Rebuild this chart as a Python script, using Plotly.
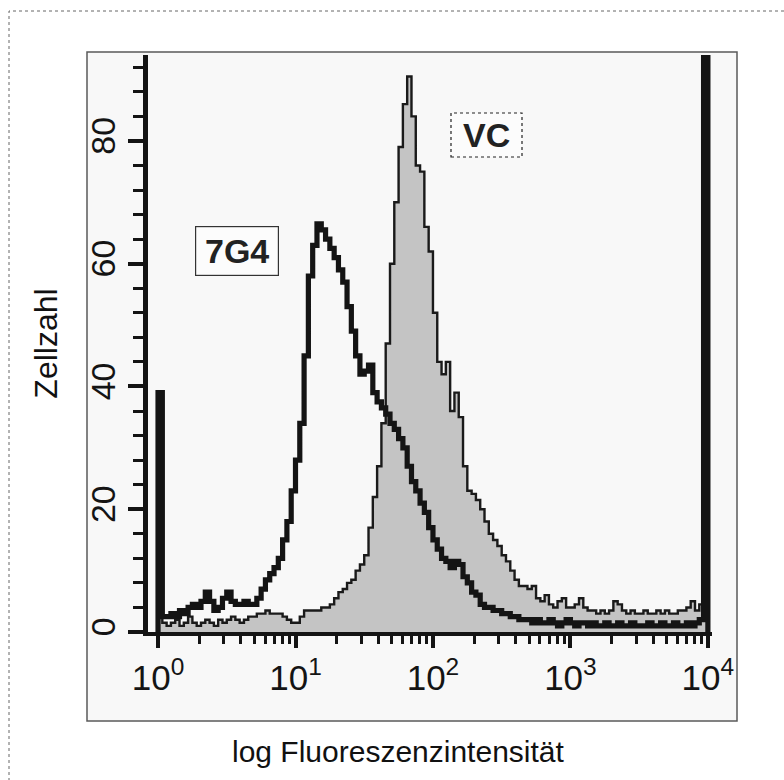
import numpy as np
import plotly.graph_objects as go

# ---------------- data ----------------
BINS_PER_DECADE = 32          # histogram channels per decade, 4 decades

counts_7g4 = (
    [39]
    + [2.5, 2.5, 3, 2.5, 3.5, 3, 4, 4.5, 4, 5, 6.5, 5, 3.5, 4, 5.5, 6.5, 5, 4.5, 4.5, 5, 4.5, 4.5]
    + [5.5, 7, 8.5, 9.5, 10.5, 12, 15, 18, 23, 28, 34, 45, 58, 63, 66.5]
    + [65.5, 64, 62.5, 61, 59, 57, 53, 49, 45, 42, 42.5, 43.5, 39, 37.5, 36.5, 35.5, 34, 33,
       31.5, 30, 27, 24.5, 23]
    + [21, 19.5, 17, 15, 13.5, 12, 11.5, 10.5, 11.5, 11, 9, 8, 6.5, 6, 4.5, 4, 4, 3.5, 3.5,
       3, 3, 2.5, 2.5, 2, 2]
    + [2, 1.5, 2, 1.5, 1.5, 2, 1.5, 1, 1.5, 2, 1.5, 1, 1.5, 1.5, 1, 1.5, 1, 1, 1.5, 1, 1,
       1.5, 1, 1, 1.5, 1, 1, 1, 1.5, 1, 1, 1.5, 1, 1, 1.5, 1, 1, 1.5, 1, 1.5, 2]
    + [100]
)

counts_vc = (
    [20]
    + [1.5, 1, 1.5, 2, 1, 1.5, 2.5, 1.5, 1, 1.5, 2, 1.5, 1, 2, 1.5, 2, 2.5, 2, 1.5, 2, 2.5, 2.5]
    + [3, 3, 3.5, 3, 3, 3, 2.5, 2, 1.5, 1.5, 2.5, 3.5, 3.5, 3.5, 3.5, 4, 4, 4.5, 5.5, 6.5, 7,
       8, 8.5, 10, 11, 12.5, 17, 22, 27, 34]
    + [47, 60, 70, 79, 86, 90.5, 84, 76, 75, 66, 62, 52, 44, 42, 44, 36, 39, 35, 27, 23, 22.5,
       21.5, 20, 18, 16, 15, 14, 12.5, 11.5, 10, 8.5, 7.5, 7.5, 7, 7.5, 5.5, 5, 6, 4.5, 4, 5,
       5.5, 4, 4, 4.5, 5.5, 4, 3.5]
    + [3.5, 3, 3.5, 3, 3.5, 5, 4.5, 3.5, 3, 3.5, 3, 3, 3.5, 3, 3, 3.5, 3, 3.5, 3, 3, 3.5, 3.5,
       4, 5, 3.5, 4.5]
    + [54]
)

assert len(counts_7g4) == 4 * BINS_PER_DECADE, len(counts_7g4)
assert len(counts_vc) == 4 * BINS_PER_DECADE, len(counts_vc)

x_tickvals = [1, 10, 100, 1000, 10000]
x_ticktext = ["10<sup>0</sup>", "10<sup>1</sup>", "10<sup>2</sup>", "10<sup>3</sup>", "10<sup>4</sup>"]
x_minor = [m * 10 ** d for d in range(4) for m in range(2, 10)]
y_tickvals = [0, 20, 40, 60, 80]

label_7g4 = "7G4"
label_vc = "VC"
x_title = "log Fluoreszenzintensität"
y_title = "Zellzahl"

# ---------------- build step outlines ----------------
def step_xy(counts):
    edges = 10 ** (np.arange(len(counts) + 1) / BINS_PER_DECADE)
    xs = [edges[0]] + list(edges[:-1]) + [edges[-1], edges[-1]]
    ys = [0] + list(counts) + [counts[-1], 0]
    return xs, ys

FONT = "Liberation Sans, Arial, Helvetica, sans-serif"
INK = "#141414"

fig = go.Figure()
xv, yv = step_xy(counts_vc)
fig.add_trace(go.Scatter(x=xv, y=yv, mode="lines", line=dict(shape="hv", color="#1a1a1a", width=2.4),
                         fill="tozeroy", fillcolor="#c4c4c4", name=label_vc, showlegend=False,
                         hoverinfo="skip"))
xg, yg = step_xy(counts_7g4)
fig.add_trace(go.Scatter(x=xg, y=yg, mode="lines", line=dict(shape="hv", color=INK, width=5.2),
                         name=label_7g4, showlegend=False, hoverinfo="skip"))

# plot-area geometry in pixels (for paper-coordinate decorations)
L, R, T, B = 148, 72, 55, 148
W, H = 784, 780
PW, PH = W - L - R, H - T - B
def px(x):
    return (x - L) / PW
def py(y):
    return (H - B - y) / PH

shapes = [
    # scanned picture frame
    dict(type="rect", xref="paper", yref="paper", x0=px(87), x1=px(737), y0=py(721), y1=py(52),
         line=dict(color="#5a5a5a", width=1.5), fillcolor="#f8f8f8", layer="below"),
    # outer dashed border
    dict(type="rect", xref="paper", yref="paper", x0=px(9), x1=px(800), y0=py(800), y1=py(11),
         line=dict(color="#666", width=1, dash="dot"), layer="below"),
    # dotted box around VC label
    dict(type="rect", xref="paper", yref="paper", x0=px(451), x1=px(522), y0=py(157), y1=py(113),
         line=dict(color="#222", width=1.2, dash="dot"), fillcolor="rgba(255,255,255,0.6)"),
]

annotations = [
    dict(text="<b>%s</b>" % label_7g4, xref="paper", yref="paper", x=px(237), y=py(251),
         showarrow=False, font=dict(family=FONT, size=34, color="#222"),
         bordercolor="#333", borderwidth=1.2, borderpad=3, bgcolor="rgba(255,255,255,0.6)",
         width=76, height=42, xanchor="center", yanchor="middle"),
    dict(text="<b>%s</b>" % label_vc, xref="paper", yref="paper", x=px(486), y=py(135),
         showarrow=False, font=dict(family=FONT, size=34, color="#222"),
         xanchor="center", yanchor="middle"),
    dict(text=x_title, xref="paper", yref="paper", x=px(398), y=py(751),
         showarrow=False, font=dict(family=FONT, size=30, color="#111"),
         xanchor="center", yanchor="middle"),
]

fig.update_layout(
    width=W, height=H,
    margin=dict(l=L, r=R, t=T, b=B, pad=0),
    paper_bgcolor="white", plot_bgcolor="#f8f8f8",
    shapes=shapes, annotations=annotations,
    font=dict(family=FONT, color=INK),
)
fig.update_xaxes(
    type="log", range=[-0.073, 4.03],
    tickvals=x_tickvals, ticktext=x_ticktext,
    tickfont=dict(size=35, family=FONT, color=INK),
    ticks="outside", ticklen=12, tickwidth=3.5, tickcolor=INK,
    minor=dict(tickvals=x_minor, ticks="outside", ticklen=8, tickwidth=3, tickcolor=INK),
    showline=True, linewidth=4, linecolor=INK, showgrid=False, zeroline=False,
)
fig.update_yaxes(
    range=[0, 94],
    tickvals=y_tickvals, tickangle=-90,
    tickfont=dict(size=34, family=FONT, color=INK),
    ticks="outside", ticklen=15, tickwidth=3.5, tickcolor=INK, ticklabelstandoff=0,
    minor=dict(dtick=4, tick0=0, ticks="outside", ticklen=10, tickwidth=3, tickcolor=INK),
    showline=True, linewidth=4.5, linecolor=INK, showgrid=False, zeroline=False,
    title=dict(text=y_title, font=dict(size=32, family=FONT, color="#111"), standoff=18),
)

fig.write_html("out.html")
